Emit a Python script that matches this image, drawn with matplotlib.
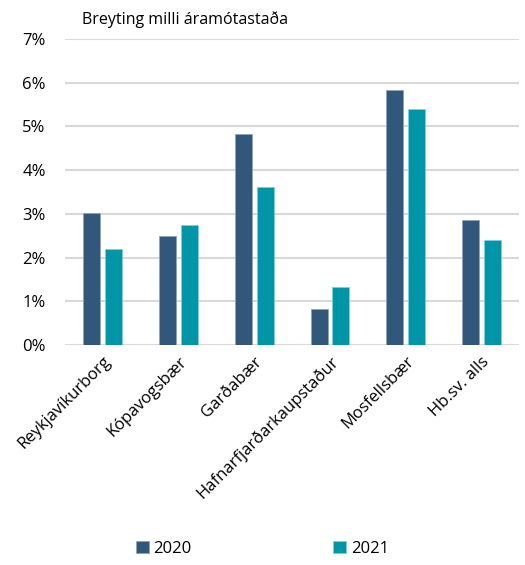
import numpy as np
import matplotlib
matplotlib.use("Agg")
import matplotlib.pyplot as plt
from matplotlib.ticker import PercentFormatter

# Data
categories = ['Reykjavíkurborg', 'Kópavogsbær', 'Garðabær',
              'Hafnarfjarðarkaupstaður', 'Mosfellsbær', 'Hb.sv. alls']
values_2020 = [3.02, 2.49, 4.83, 0.82, 5.84, 2.86]
values_2021 = [2.20, 2.74, 3.62, 1.32, 5.40, 2.40]
series_labels = ['2020', '2021']

plt.rcParams['font.family'] = ['Open Sans', 'DejaVu Sans']

fig = plt.figure(figsize=(5.25, 5.65), dpi=100)
ax = fig.add_axes([0.124, 0.389, 0.865, 0.542])

x = np.arange(len(categories))
w = 0.225
off = 0.145
ax.bar(x - off, values_2020, w, color='#31587A', edgecolor='#8fa4b8',
       linewidth=0.6, label=series_labels[0], zorder=3)
ax.bar(x + off, values_2021, w, color='#0096A8', edgecolor='#7fd0da',
       linewidth=0.6, label=series_labels[1], zorder=3)

ax.set_ylim(0, 7)
ax.set_xlim(-0.5, len(categories) - 0.5)
ax.set_yticks(np.arange(0, 8, 1))
ax.yaxis.set_major_formatter(PercentFormatter(decimals=0))
ax.grid(axis='y', color='#d9d9d9', linewidth=1.5, zorder=0)
for s in ax.spines.values():
    s.set_visible(False)
ax.tick_params(axis='both', length=0, labelsize=12, colors='black')
ax.tick_params(axis='y', pad=14)
ax.tick_params(axis='x', pad=6)
ax.set_xticks(x)
ax.set_xticklabels(categories, rotation=45, ha='right', rotation_mode='anchor')

fig.text(0.156, 0.965, 'Breyting milli áramótastaða', fontsize=11.5, va='center')

fig.legend(loc='lower center', bbox_to_anchor=(0.5, -0.012), ncol=2,
           frameon=False, fontsize=12, handlelength=0.75, handleheight=0.75,
           handletextpad=0.3, columnspacing=8.5)

fig.savefig('out.png', dpi=100)
